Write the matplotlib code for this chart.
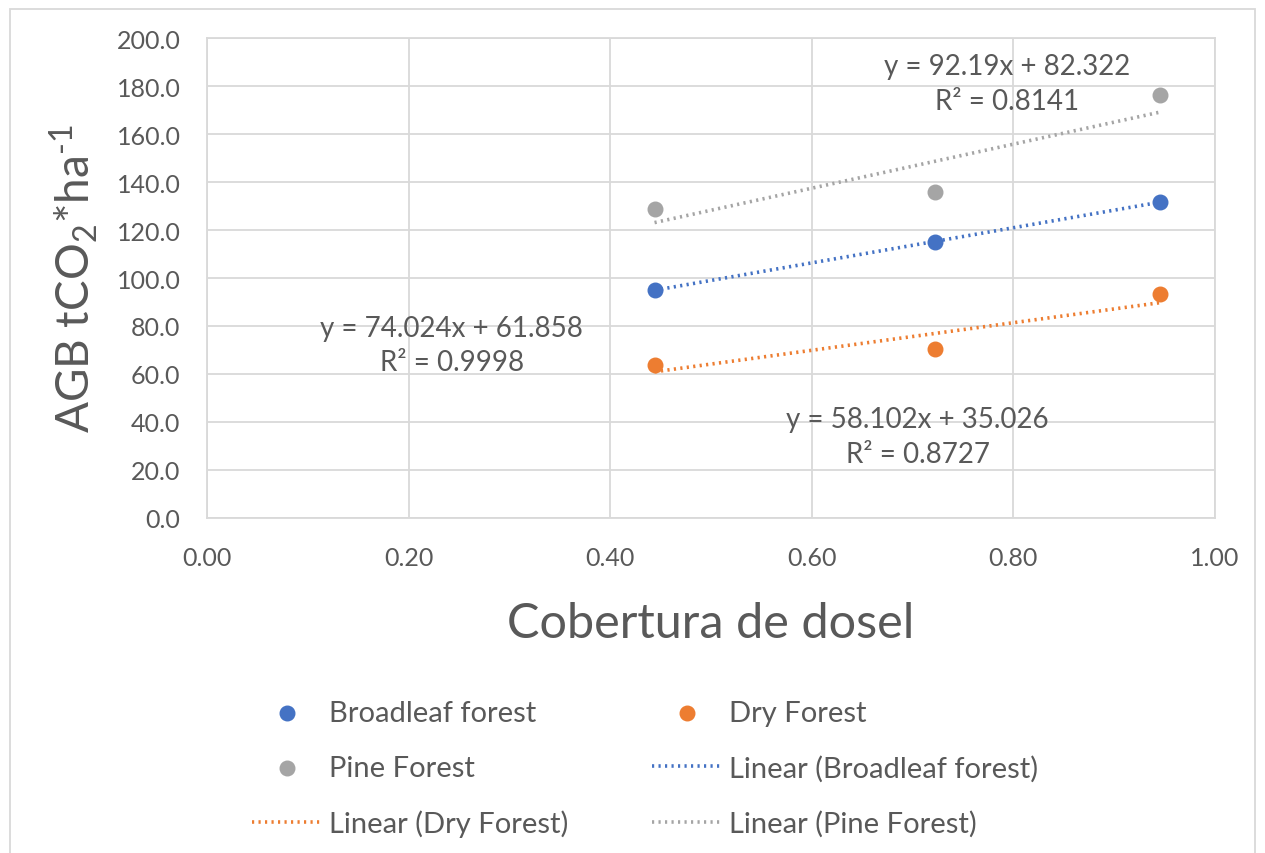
import numpy as np
import matplotlib.pyplot as plt
from matplotlib.patches import Rectangle

plt.rcParams['font.family'] = ['Lato', 'DejaVu Sans']
plt.rcParams['mathtext.fontset'] = 'custom'
plt.rcParams['mathtext.rm'] = 'Lato'
plt.rcParams['mathtext.it'] = 'Lato'

# Datos: cobertura de dosel vs AGB
x = np.array([0.444, 0.722, 0.945])
broadleaf = np.array([95.0, 115.0, 131.7])
dry = np.array([63.8, 70.4, 93.3])
pine = np.array([128.8, 135.8, 176.2])

series = ['Broadleaf forest', 'Dry Forest', 'Pine Forest']
valores = [broadleaf, dry, pine]
colores = ['#4472C4', '#ED7D31', '#A5A5A5']
etiquetas = ['y = 74.024x + 61.858\nR² = 0.9998',
             'y = 58.102x + 35.026\nR² = 0.8727',
             'y = 92.19x + 82.322\nR² = 0.8141']
pos_etiquetas = [(0.243, 72), (0.705, 34), (0.794, 181)]

texto = '#595959'
rejilla = '#D9D9D9'

fig = plt.figure(figsize=(12.65, 8.54), dpi=100)
ax = fig.add_axes([0.1636, 0.3923, 0.7969, 0.562])

puntos = []
lineas = []
for nombre, y, c, et, pos in zip(series, valores, colores, etiquetas, pos_etiquetas):
    p = ax.scatter(x, y, s=110, color=c, zorder=4, label=nombre)
    b, a = np.polyfit(x, y, 1)
    xs = np.array([x.min(), x.max()])
    l, = ax.plot(xs, a + b * xs, linestyle=(0, (0.6, 1.2)), color=c, lw=2.6,
                 zorder=3, label=f'Linear ({nombre})')
    puntos.append(p)
    lineas.append(l)
    ax.text(pos[0], pos[1], et, ha='center', va='center', fontsize=20,
            color=texto, linespacing=1.4, zorder=5)

ax.set_xlim(0, 1)
ax.set_ylim(0, 200)
ax.set_xticks(np.arange(0, 1.01, 0.2))
ax.set_yticks(np.arange(0, 201, 20))
ax.set_xticklabels([f'{v:.2f}' for v in np.arange(0, 1.01, 0.2)])
ax.set_yticklabels([f'{v:.1f}' for v in np.arange(0, 201, 20)])
ax.tick_params(length=0, labelsize=18, labelcolor=texto)
ax.tick_params(axis='y', pad=19)
ax.tick_params(axis='x', pad=20)
ax.grid(True, color=rejilla, lw=1.3)
ax.set_axisbelow(True)
for s in ax.spines.values():
    s.set_color(rejilla)
    s.set_linewidth(1.3)

ax.set_xlabel('Cobertura de dosel', fontsize=35, color=texto, labelpad=23)
ax.set_ylabel(r'AGB tCO$_2$*ha$^{\text{-1}}$', fontsize=33, color=texto, labelpad=12)

# Leyenda en dos columnas (orden por filas)
handles = [puntos[0], puntos[2], lineas[1], puntos[1], lineas[0], lineas[2]]
labels = [h.get_label() for h in handles]
fig.legend(handles, labels, loc='center', bbox_to_anchor=(0.51, 0.099), ncol=2,
           frameon=False, fontsize=21, labelcolor=texto, columnspacing=2.85,
           labelspacing=0.98, handlelength=2.4, handletextpad=0.25)

fig.patches.append(Rectangle((0.008, -0.01), 0.984, 0.998, transform=fig.transFigure,
                             fill=False, edgecolor=rejilla, lw=1.3))

fig.savefig('out.png', dpi=100)
